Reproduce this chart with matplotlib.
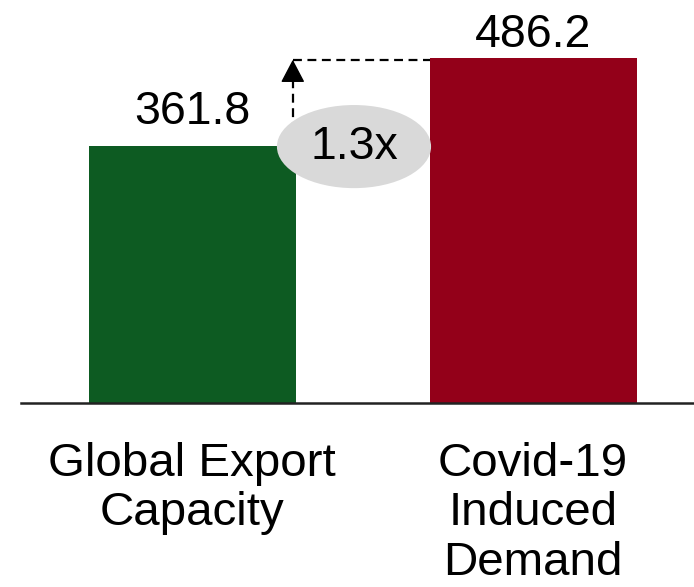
import matplotlib
matplotlib.use("Agg")
import matplotlib.pyplot as plt
from matplotlib.patches import Ellipse

plt.rcParams["font.family"] = ["Liberation Sans", "DejaVu Sans"]

categories = ["Global Export\nCapacity", "Covid-19\nInduced\nDemand"]
values = [361.8, 486.2]
ratio_label = "1.3x"

colors = ["#0D5B22", "#930019"]
label_pad = [15.5, 8.0]  # points between bar top and value label
bar_w = 0.607

W, H = 694, 587
fig = plt.figure(figsize=(W / 100, H / 100), dpi=100)
base_px = 403
ax = fig.add_axes([21 / W, (H - base_px) / H, (W - 21) / W, base_px / H])
ax.set_xlim(-0.5015, 1.4721)
ax.set_ylim(0, base_px / 0.7103)

xs = list(range(len(values)))
ax.bar(xs, values, width=bar_w, color=colors, zorder=2)

for x, v, pad in zip(xs, values, label_pad):
    ax.annotate(f"{v:.1f}", xy=(x, v), xytext=(0, pad), textcoords="offset points",
                ha="center", va="baseline", fontsize=33.5, color="black")

for x, c in zip(xs, categories):
    ax.annotate(c, xy=(x, 0), xycoords=("data", "axes fraction"),
                xytext=(0, -28), textcoords="offset points",
                ha="center", va="top", fontsize=34.2, linespacing=1.16,
                annotation_clip=False)

# dashed step from the first bar up to the level of the second
ax_x = xs[0] + bar_w / 2 - 0.008
top_y = values[1] - 3
head_len = 22
ax.plot([ax_x, xs[1] - bar_w / 2], [top_y, top_y], color="black",
        lw=1.6, ls=(0, (4, 2.5)), zorder=3)
ax.plot([ax_x, ax_x], [values[0], top_y - head_len], color="black",
        lw=1.6, ls=(0, (4, 2.5)), zorder=3)
ax.annotate("", xy=(ax_x, top_y), xytext=(ax_x, top_y - head_len),
            arrowprops=dict(arrowstyle="-|>,head_length=0.8,head_width=0.42",
                            mutation_scale=18, color="black", lw=1.0,
                            shrinkA=0, shrinkB=0), zorder=4)

# growth-factor badge
ell = Ellipse((0.475, 361), width=0.452, height=117, facecolor="#D9D9D9",
              edgecolor="none", zorder=5)
ax.add_patch(ell)
ax.text(0.475, 361, ratio_label, ha="center", va="center", fontsize=33.5, zorder=6)

for s in ("top", "right", "left"):
    ax.spines[s].set_visible(False)
ax.spines["bottom"].set_linewidth(1.8)
ax.spines["bottom"].set_color("#222222")
ax.spines["bottom"].set_zorder(3)
ax.set_xticks([])
ax.set_yticks([])

fig.savefig("out.png", dpi=100, facecolor="white")
